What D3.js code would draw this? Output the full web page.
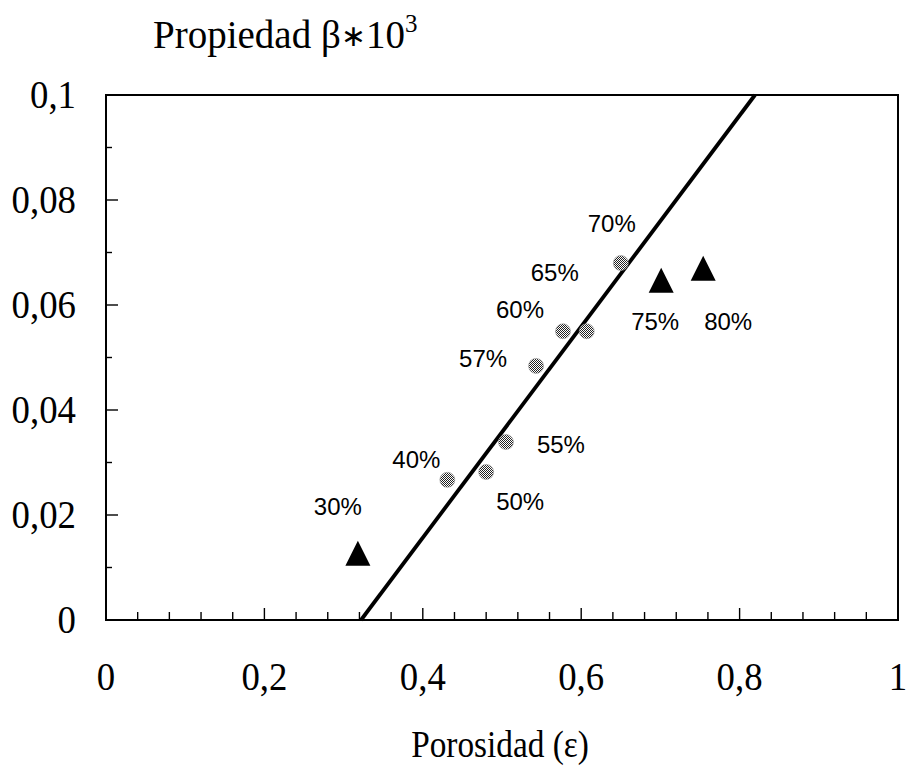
<!DOCTYPE html>
<html><head><meta charset="utf-8">
<script src="https://cdn.jsdelivr.net/npm/d3@7"></script>
<style>body{margin:0;background:#fff}</style>
</head><body>
<svg id="c" width="906" height="773"></svg>
<script>
const xTicks = [0, 0.2, 0.4, 0.6, 0.8, 1];
const xTickLabels = ["0", "0,2", "0,4", "0,6", "0,8", "1"];
const yTicks = [0, 0.02, 0.04, 0.06, 0.08, 0.1];
const yTickLabels = ["0", "0,02", "0,04", "0,06", "0,08", "0,1"];

const circleLabels = ["40%", "50%", "55%", "57%", "60%", "65%", "70%"];
const circleX = [0.431, 0.480, 0.505, 0.543, 0.577, 0.607, 0.650];
const circleY = [0.0267, 0.0282, 0.0339, 0.0484, 0.0550, 0.0550, 0.0680];

const triLabels = ["30%", "75%", "80%"];
const triX = [0.318, 0.701, 0.754];
const triY = [0.0127, 0.0647, 0.0670];

const fitLine = [[0.322, 0], [0.8194, 0.1]];

// label offsets in pixels (layout)
const circleLabelOff = [[-31,-20],[34,30],[55,3],[-53,-7],[-43,-21],[-32,-58],[-9,-39]];
const triLabelOff = [[-20,-46],[-6,42],[25,54]];

const svg = d3.select("#c");
const L = 106, R = 898, T = 95, B = 620;
const x = d3.scaleLinear().domain([0,1]).range([L,R]);
const y = d3.scaleLinear().domain([0,0.1]).range([B,T]);

// frame
svg.append("rect").attr("x",L).attr("y",T).attr("width",R-L).attr("height",B-T)
  .attr("fill","none").attr("stroke","#000").attr("stroke-width",2);

// ticks (inward)
const xMinor = d3.range(0, 1.0001, 0.04);
svg.append("g").selectAll("line").data(xMinor).join("line")
  .attr("x1",d=>x(d)).attr("x2",d=>x(d))
  .attr("y1",B).attr("y2",d=>B-(Math.abs(d/0.2-Math.round(d/0.2))<1e-6?12:8))
  .attr("stroke","#000").attr("stroke-width",1.4);
const yMinor = d3.range(0, 0.10001, 0.01);
svg.append("g").selectAll("line").data(yMinor).join("line")
  .attr("y1",d=>y(d)).attr("y2",d=>y(d))
  .attr("x1",L).attr("x2",d=>L+(Math.abs(d/0.02-Math.round(d/0.02))<1e-6?12:6))
  .attr("stroke","#000").attr("stroke-width",1.4);

const serif = "'Liberation Serif','Times New Roman',serif";
svg.append("g").selectAll("text").data(xTicks).join("text")
  .attr("transform",d=>`translate(${x(d)},690) scale(0.92,1)`).attr("text-anchor","middle")
  .attr("font-family",serif).attr("font-size",40).text((d,i)=>xTickLabels[i]);
svg.append("g").selectAll("text").data(yTicks).join("text")
  .attr("transform",d=>`translate(76,${y(d)+13}) scale(0.92,1)`).attr("text-anchor","end")
  .attr("font-family",serif).attr("font-size",40).text((d,i)=>yTickLabels[i]);

// titles
const t = svg.append("text").attr("x",153).attr("y",48).attr("font-family",serif).attr("font-size",39);
t.append("tspan").text("Propiedad β");
t.append("tspan").attr("font-family","'DejaVu Sans',sans-serif").attr("font-size",30).attr("dy",-2).text("∗");
t.append("tspan").attr("dy",2).text("10");
t.append("tspan").attr("dy",-16).attr("font-size",25).text("3");
svg.append("text").attr("transform","translate(500,757) scale(0.9,1)").attr("text-anchor","middle")
  .attr("font-family",serif).attr("font-size",37).text("Porosidad (ε)");

// pattern for dotted circles
const defs = svg.append("defs");
const pat = defs.append("pattern").attr("id","dots").attr("patternUnits","userSpaceOnUse")
  .attr("width",2).attr("height",2);
pat.append("rect").attr("width",2).attr("height",2).attr("fill","#fff");
pat.append("rect").attr("width",1).attr("height",1).attr("fill","#222");
pat.append("rect").attr("x",1).attr("y",1).attr("width",1).attr("height",1).attr("fill","#222");

// fit line
svg.append("line").attr("x1",x(fitLine[0][0])).attr("y1",y(fitLine[0][1]))
  .attr("x2",x(fitLine[1][0])).attr("y2",y(fitLine[1][1]))
  .attr("stroke","#000").attr("stroke-width",3.8);

// circles
svg.append("g").selectAll("circle").data(circleX).join("circle")
  .attr("cx",d=>x(d)).attr("cy",(d,i)=>y(circleY[i])).attr("r",7.5)
  .attr("fill","url(#dots)").attr("stroke","#999").attr("stroke-width",0.6);

// triangles (isosceles, 25 wide x 25 tall)
const triPath = "M0,-12.5L12.5,12.5L-12.5,12.5Z";
svg.append("g").selectAll("path").data(triX).join("path")
  .attr("d",triPath).attr("transform",(d,i)=>`translate(${x(d)},${y(triY[i])})`)
  .attr("fill","#000");

const sans = "'Liberation Sans',Arial,sans-serif";
svg.append("g").selectAll("text").data(circleX).join("text")
  .attr("x",(d,i)=>x(d)+circleLabelOff[i][0]).attr("y",(d,i)=>y(circleY[i])+circleLabelOff[i][1]+8)
  .attr("text-anchor","middle").attr("font-family",sans).attr("font-size",24)
  .text((d,i)=>circleLabels[i]);
svg.append("g").selectAll("text").data(triX).join("text")
  .attr("x",(d,i)=>x(d)+triLabelOff[i][0]).attr("y",(d,i)=>y(triY[i])+triLabelOff[i][1]+8)
  .attr("text-anchor","middle").attr("font-family",sans).attr("font-size",24)
  .text((d,i)=>triLabels[i]);
</script>
</body></html>
